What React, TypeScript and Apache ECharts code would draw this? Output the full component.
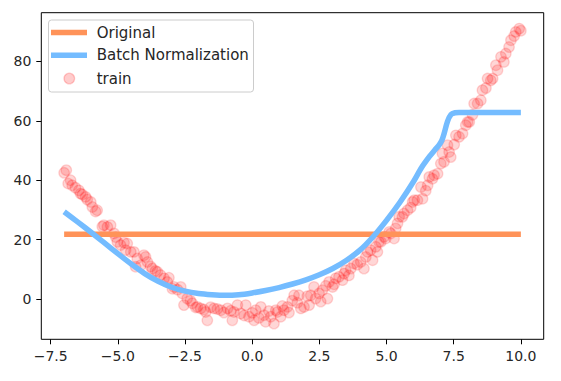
import React, { useEffect, useRef } from "react";
import * as echarts from "echarts";

const xTicks = [-7.5, -5, -2.5, 0, 2.5, 5, 7.5, 10];
const yTicks = [0, 20, 40, 60, 80];

const originalX = [-7, -3, 0, 3, 7, 10];
const originalY = [21.8, 21.8, 21.8, 21.8, 21.8, 21.8];

const bnX = [-7.0, -6.5, -6.0, -5.5, -5.0, -4.5, -4.0, -3.5, -3.0, -2.5, -2.0, -1.5, -1.0, -0.5, 0.0, 0.5, 1.0, 1.5, 2.0, 2.5, 3.0, 3.5, 4.0, 4.5, 5.0, 5.5, 6.0, 6.3, 6.6, 6.8, 6.96, 7.06, 7.14, 7.27, 7.4, 7.55, 7.7, 8.5, 10.0];
const bnY = [29.4, 26.0, 22.5, 18.9, 15.3, 11.8, 8.6, 6.0, 4.0, 2.7, 1.9, 1.5, 1.3, 1.5, 2.1, 2.9, 3.9, 5.1, 6.5, 8.2, 10.3, 13.0, 16.4, 21.0, 26.5, 32.6, 39.5, 44.2, 48.0, 50.2, 51.9, 53.4, 55.6, 59.8, 62.1, 62.7, 62.8, 62.8, 62.8];

const trainX = [-7.00, -6.92, -6.85, -6.76, -6.70, -6.58, -6.45, -6.39, -6.32, -6.20, -6.14, -6.01, -5.95, -5.83, -5.77, -5.58, -5.52, -5.39, -5.27, -5.14, -5.08, -5.02, -4.90, -4.77, -4.71, -4.65, -4.52, -4.40, -4.34, -4.28, -4.15, -4.03, -3.97, -3.90, -3.78, -3.72, -3.60, -3.53, -3.41, -3.28, -3.16, -3.10, -2.97, -2.91, -2.78, -2.66, -2.60, -2.54, -2.42, -2.30, -2.23, -2.10, -2.04, -1.92, -1.80, -1.73, -1.67, -1.55, -1.42, -1.30, -1.17, -1.05, -0.92, -0.80, -0.74, -0.68, -0.55, -0.43, -0.30, -0.24, -0.12, 0.00, 0.07, 0.13, 0.25, 0.32, 0.44, 0.50, 0.62, 0.69, 0.81, 0.88, 0.94, 1.06, 1.12, 1.18, 1.31, 1.37, 1.49, 1.56, 1.68, 1.74, 1.81, 1.93, 2.05, 2.12, 2.18, 2.30, 2.36, 2.49, 2.55, 2.61, 2.74, 2.80, 2.86, 2.99, 3.05, 3.11, 3.23, 3.36, 3.42, 3.48, 3.60, 3.67, 3.79, 3.91, 4.04, 4.16, 4.23, 4.29, 4.41, 4.48, 4.60, 4.66, 4.72, 4.79, 4.91, 4.97, 5.10, 5.16, 5.28, 5.34, 5.41, 5.47, 5.59, 5.65, 5.78, 5.90, 5.97, 6.03, 6.15, 6.28, 6.34, 6.46, 6.53, 6.59, 6.71, 6.77, 6.90, 7.02, 7.08, 7.14, 7.27, 7.33, 7.39, 7.52, 7.58, 7.70, 7.83, 7.95, 8.02, 8.08, 8.20, 8.26, 8.39, 8.51, 8.57, 8.70, 8.76, 8.88, 8.95, 9.07, 9.13, 9.26, 9.37, 9.44, 9.56, 9.63, 9.75, 9.81, 9.94, 10.00];
const trainY = [42.5, 43.4, 38.9, 40.0, 38.3, 37.5, 36.6, 35.5, 35.2, 34.4, 33.5, 32.7, 31.0, 29.5, 29.9, 24.4, 24.9, 24.3, 24.9, 22.1, 20.9, 19.3, 18.2, 19.0, 16.5, 18.7, 15.9, 15.9, 10.9, 13.7, 11.4, 14.8, 14.2, 12.5, 11.0, 10.3, 9.5, 9.2, 8.1, 7.0, 5.8, 7.2, 3.5, 4.1, 3.2, 4.1, 1.9, -2.0, 0.2, -0.5, -1.4, -2.8, -2.6, -3.1, -3.5, -4.3, -7.1, -2.7, -3.1, -3.3, -3.7, -4.5, -3.1, -3.9, -7.1, -4.3, -2.0, -4.8, -5.5, -2.0, -5.9, -4.6, -7.1, -3.7, -6.3, -2.6, -5.4, -7.6, -4.0, -5.9, -8.2, -3.7, -4.3, -5.9, -2.3, -3.7, -2.6, -4.5, -0.5, 1.3, -1.2, 1.3, -3.1, -2.6, 1.0, -2.0, 1.3, 4.1, 0.2, 1.9, -0.8, 3.0, 4.5, 0.2, 5.8, 4.1, 5.0, 7.0, 7.5, 6.4, 8.6, 9.7, 8.0, 10.3, 12.0, 11.6, 12.5, 10.3, 14.2, 15.9, 16.5, 13.1, 17.6, 15.9, 19.3, 19.3, 21.0, 20.4, 22.6, 22.1, 20.4, 23.8, 25.5, 27.7, 27.7, 28.8, 29.9, 30.8, 32.7, 33.3, 33.3, 37.7, 33.8, 36.5, 38.3, 41.1, 40.5, 41.7, 42.2, 45.6, 49.0, 46.2, 51.8, 49.5, 47.8, 52.0, 55.1, 54.6, 55.7, 58.5, 59.6, 59.6, 62.0, 65.8, 65.8, 66.9, 70.3, 71.0, 74.2, 73.6, 74.2, 78.7, 77.0, 81.5, 79.8, 82.6, 84.8, 87.1, 88.5, 89.9, 91.0, 90.3];

const legendLabels = ["Original", "Batch Normalization", "train"];

const ORANGE = "#FF9359";
const BLUE = "#74BCFF";
const FONT = "DejaVu Sans";

const fmtX = (v: number) => {
  const s = Math.abs(v).toFixed(1);
  return v < 0 ? "\u2212" + s : s;
};

export default function App() {
  const ref = useRef<HTMLDivElement>(null);
  useEffect(() => {
    if (!ref.current) return;
    const chart = echarts.init(ref.current, null, { renderer: "svg" });
    const zip = (xs: number[], ys: number[]) => xs.map((x, i) => [x, ys[i]]);
    const legendRows = [32.5, 55.2, 78.5];
    chart.setOption({
      animation: false,
      backgroundColor: "#ffffff",
      grid: {
        left: 41.3,
        top: 12.7,
        width: 502.4,
        height: 326.6,
        show: true,
        borderColor: "#000",
        borderWidth: 1,
        backgroundColor: "transparent",
      },
      xAxis: {
        type: "value",
        min: -7.85,
        max: 10.85,
        splitLine: { show: false },
        axisLine: { show: false, onZero: false },
        axisTick: {
          show: true,
          length: 5,
          inside: false,
          customValues: xTicks,
          lineStyle: { color: "#000", width: 1 },
        },
        axisLabel: {
          customValues: xTicks,
          formatter: (v: number) => fmtX(v),
          color: "#262626",
          fontFamily: FONT,
          fontSize: 14,
          margin: 10,
        },
      },
      yAxis: {
        type: "value",
        min: -13.5,
        max: 96.35,
        splitLine: { show: false },
        axisLine: { show: false, onZero: false },
        axisTick: {
          show: true,
          length: 5,
          inside: false,
          customValues: yTicks,
          lineStyle: { color: "#000", width: 1 },
        },
        axisLabel: {
          customValues: yTicks,
          formatter: (v: number) => String(v),
          color: "#262626",
          fontFamily: FONT,
          fontSize: 14,
          margin: 10,
        },
      },
      series: [
        {
          name: "train",
          type: "scatter",
          data: zip(trainX, trainY),
          symbol: "circle",
          symbolSize: 10.5,
          itemStyle: {
            color: "rgba(255,0,0,0.2)",
            borderColor: "rgba(255,0,0,0.2)",
            borderWidth: 1.3,
          },
          z: 2,
        },
        {
          name: "Original",
          type: "line",
          data: zip(originalX, originalY),
          showSymbol: false,
          symbol: "none",
          lineStyle: { color: ORANGE, width: 5.5, cap: "butt" },
          z: 3,
        },
        {
          name: "Batch Normalization",
          type: "line",
          data: zip(bnX, bnY),
          showSymbol: false,
          symbol: "none",
          smooth: 0.3,
          lineStyle: { color: BLUE, width: 5.5, cap: "butt", join: "round" },
          z: 4,
        },
      ],
      graphic: [
        {
          type: "rect",
          shape: { x: 48.5, y: 20, width: 205, height: 72, r: 3 },
          style: { fill: "rgba(255,255,255,0.8)", stroke: "#cccccc", lineWidth: 1 },
          z: 100,
        },
        {
          type: "line",
          shape: { x1: 51, y1: legendRows[0], x2: 87, y2: legendRows[0] },
          style: { stroke: ORANGE, lineWidth: 5.5 },
          z: 101,
        },
        {
          type: "line",
          shape: { x1: 51, y1: legendRows[1], x2: 87, y2: legendRows[1] },
          style: { stroke: BLUE, lineWidth: 5.5 },
          z: 101,
        },
        {
          type: "circle",
          shape: { cx: 69.3, cy: legendRows[2], r: 5.3 },
          style: { fill: "rgba(255,0,0,0.2)", stroke: "rgba(255,0,0,0.2)", lineWidth: 1.3 },
          z: 101,
        },
        ...legendLabels.map((t, i) => ({
          type: "text",
          x: 96.7,
          y: legendRows[i],
          style: {
            text: t,
            fill: "#262626",
            font: `15px "${FONT}"`,
            textVerticalAlign: "middle",
            verticalAlign: "middle",
          },
          z: 101,
        })),
      ],
    });
    return () => chart.dispose();
  }, []);
  return (
    <div
      ref={ref}
      style={{ position: "fixed", left: 0, top: 0, width: 561, height: 381, background: "#fff" }}
    />
  );
}
